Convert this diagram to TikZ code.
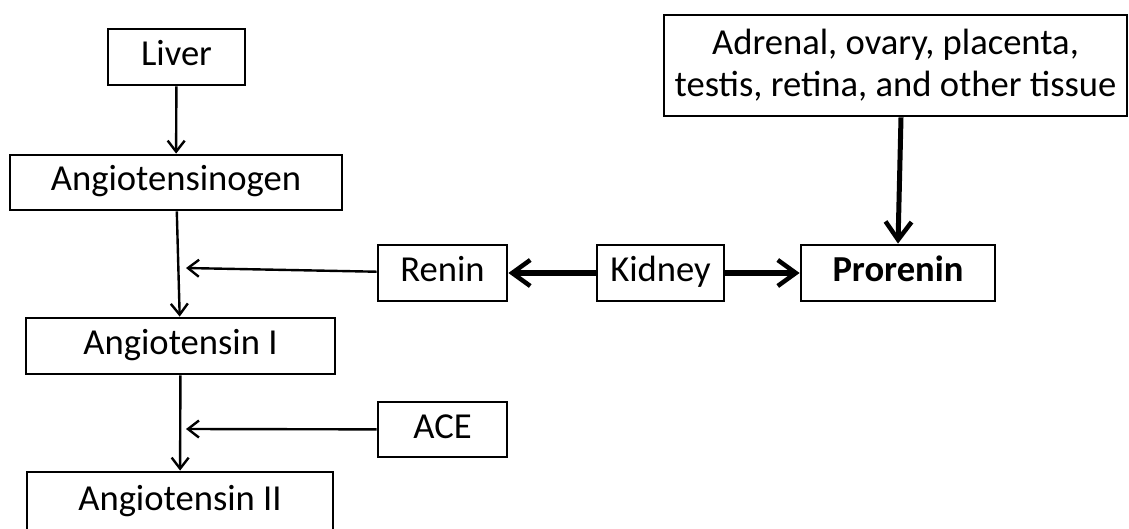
\documentclass[tikz,border=0pt]{standalone}
\usepackage{fontspec}
\setmainfont{Carlito}
\usetikzlibrary{arrows.meta}
\begin{document}
\begin{tikzpicture}[x=1pt, y=-1pt,
  box/.style={draw, line width=2.8pt, inner sep=0pt, text height=24pt, text depth=7pt, font=\fontsize{36.6}{42}\selectfont},
  thin/.style={line width=2.4pt, -{Straight Barb[length=11pt, width=17pt, line width=2.4pt]}},
  thick/.style={line width=5pt, -{Straight Barb[length=18pt, width=26pt, line width=4.5pt]}}]
\useasboundingbox (0,0) rectangle (1129,529);
\node[box, minimum width=137, minimum height=56] (liver) at (176.5,57){Liver};
\node[box, minimum width=332, minimum height=55] (angiogen) at (176,182.5){Angiotensinogen};
\node[box, minimum width=309, minimum height=56] (angioI) at (180.5,346){Angiotensin I};
\node[box, minimum width=306, minimum height=60] (angioII) at (180,502){Angiotensin II};
\node[box, minimum width=129, minimum height=56] (renin) at (442.5,273){Renin};
\node[box, minimum width=127, minimum height=56] (kidney) at (660.5,273){Kidney};
\node[box, minimum width=194, minimum height=56] (prorenin) at (898,273){\bfseries Prorenin};
\node[box, text height=, text depth=, minimum width=463, minimum height=101, align=center] (tissue) at (895.5,65.5){Adrenal, ovary, placenta,\\testis, retina, and other tissue};
\node[box, minimum width=129, minimum height=55] (ace) at (442.5,429.5){ACE};
\coordinate (reninto) at (186,268);
\coordinate (aceto) at (186,429);
\draw[thin](liver) -- (angiogen);
\draw[thin](angiogen) -- (angioI);
\draw[thin](angioI) -- (angioII);
\draw[thin](renin) -- (reninto);
\draw[thin](ace) -- (aceto);
\draw[thick](kidney) -- (renin);
\draw[thick](kidney) -- (prorenin);
\draw[thick](tissue.south -| 901,0) -- (prorenin.north -| 898,0);
\end{tikzpicture}
\end{document}
